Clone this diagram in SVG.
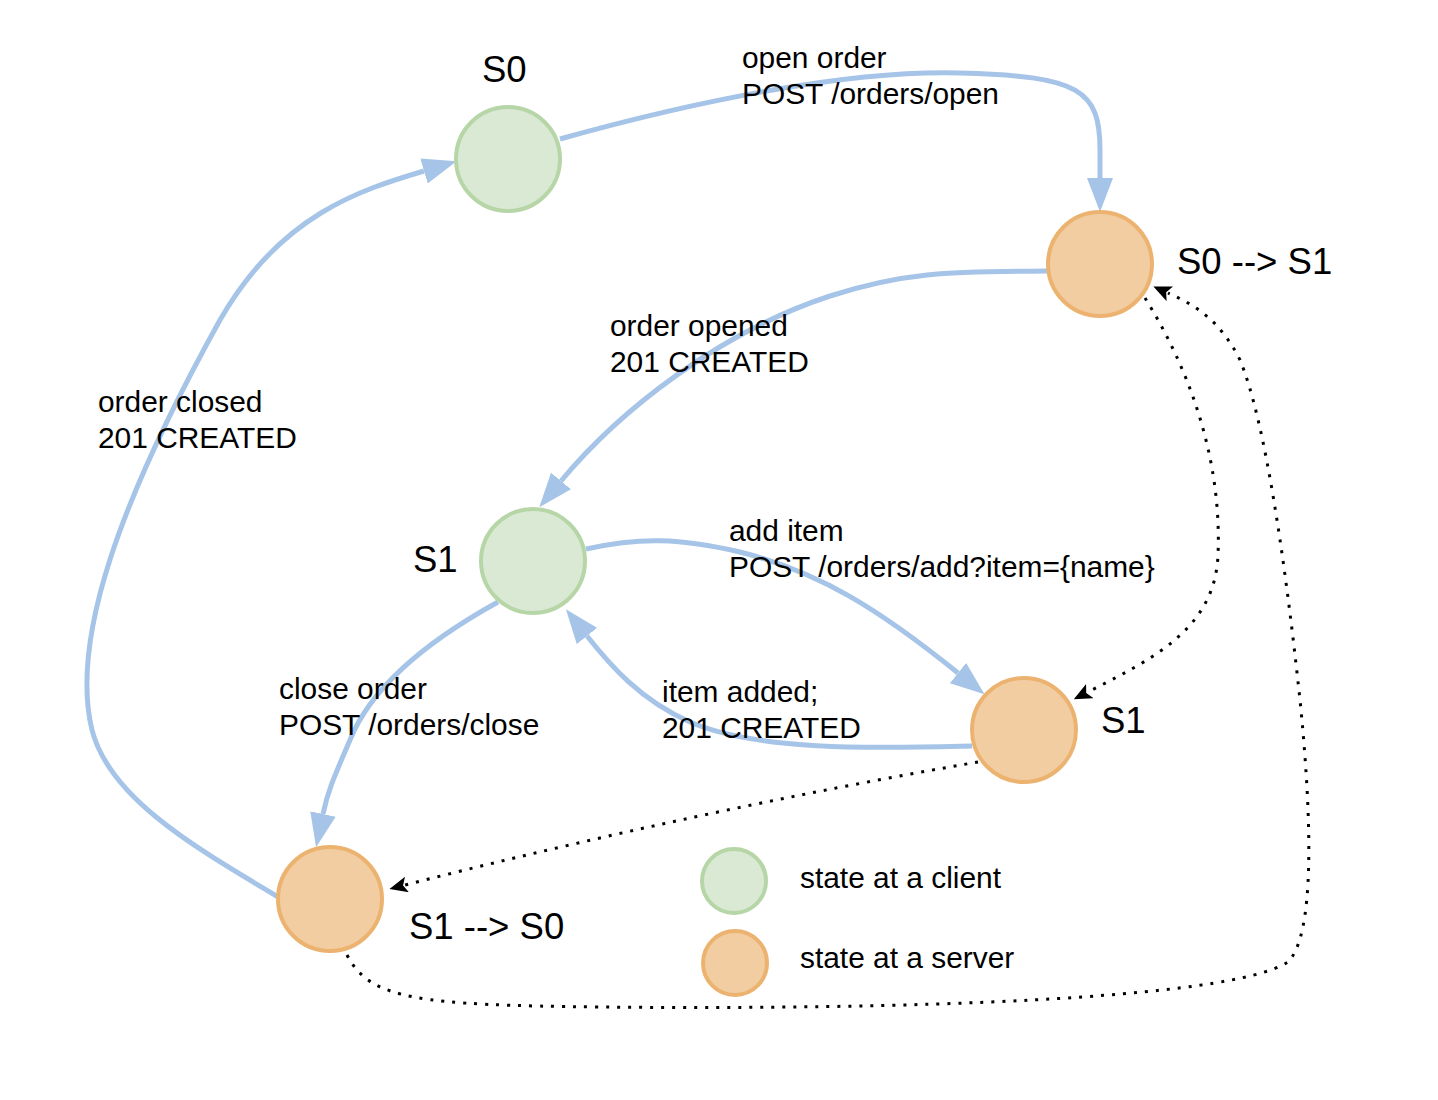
<svg xmlns="http://www.w3.org/2000/svg" width="1438" height="1100" viewBox="0 0 1438 1100">
<style>
.client{fill:#dae9d4;stroke:#b7d6a7;stroke-width:4}
.server{fill:#f2cda1;stroke:#ecb370;stroke-width:4}
.edge{fill:none;stroke:#a6c4e7;stroke-width:5;marker-end:url(#blue)}
.dot{fill:none;stroke:#000;stroke-width:3;stroke-dasharray:3 8;marker-end:url(#black)}
text{font-family:"Liberation Sans",Arial,sans-serif;fill:#000}
.lbl{font-size:29.9px}
.st{font-size:36.5px}
</style>
<defs>
<marker id="blue" markerUnits="userSpaceOnUse" markerWidth="34" markerHeight="26" viewBox="0 0 34 26" refX="0" refY="13" orient="auto"><path d="M0,0 L34,13 L0,26 z" fill="#a6c4e7"/></marker>
<marker id="black" markerUnits="userSpaceOnUse" markerWidth="18" markerHeight="16" viewBox="0 0 18 16" refX="2" refY="8" orient="auto"><path d="M0,0 L18,8 L0,16 L4,8 z" fill="#000"/></marker>
</defs>
<g id="connectors">
<path class="edge" d="M560,139 C700,100 850,70 960,73 C1080,76 1100,90 1100,150 L1100,178"/>
<path class="edge" d="M1047,271 C960,272 910,270 830,296 C720,332 620,410 561,481"/>
<path class="edge" d="M586,549 C640,537 680,538 740,552 C820,572 880,610 958,673"/>
<path class="edge" d="M972,746 C880,748 760,752 690,722 C640,700 610,665 587,636"/>
<path class="edge" d="M498,602 C420,645 370,690 350,740 C335,775 328,790 323,814"/>
<path class="edge" d="M278,897 C200,850 110,800 92,730 C70,640 120,500 220,320 C280,215 360,190 424,171"/>
<path class="dot" d="M1145,298 C1190,370 1222,460 1218,555 C1215,630 1150,660 1088,692"/>
<path class="dot" d="M978,762 Q700,810 405,885"/>
<path class="dot" d="M347,955 C370,1000 420,1005 600,1007 C900,1010 1230,1000 1288,962 C1315,935 1312,820 1300,700 C1285,560 1265,420 1240,360 C1220,320 1195,305 1168,293"/>
</g>
<g id="labels">
<text class="lbl" x="742" y="68">open order</text>
<text class="lbl" x="742" y="104">POST /orders/open</text>
<text class="lbl" x="610" y="336">order opened</text>
<text class="lbl" x="610" y="372">201 CREATED</text>
<text class="lbl" x="98" y="412">order closed</text>
<text class="lbl" x="98" y="448">201 CREATED</text>
<text class="lbl" x="729" y="541">add item</text>
<text class="lbl" x="729" y="577">POST /orders/add?item={name}</text>
<text class="lbl" x="279" y="699">close order</text>
<text class="lbl" x="279" y="735">POST /orders/close</text>
<text class="lbl" x="662" y="702">item added;</text>
<text class="lbl" x="662" y="738">201 CREATED</text>
</g>
<g id="node-s0-client"><circle class="client" cx="508" cy="159" r="52"/><text class="st" x="482" y="82">S0</text></g>
<g id="node-s0s1-server"><circle class="server" cx="1100" cy="264" r="52"/><text class="st" x="1177" y="274">S0 --&gt; S1</text></g>
<g id="node-s1-client"><circle class="client" cx="533" cy="561" r="52"/><text class="st" x="413" y="572">S1</text></g>
<g id="node-s1-server"><circle class="server" cx="1024" cy="730" r="52"/><text class="st" x="1101" y="733">S1</text></g>
<g id="node-s1s0-server"><circle class="server" cx="330" cy="899" r="52"/><text class="st" x="409" y="939">S1 --&gt; S0</text></g>
<g id="legend-client"><circle class="client" cx="734" cy="881" r="32"/><text class="lbl" x="800" y="888">state at a client</text></g>
<g id="legend-server"><circle class="server" cx="735" cy="963" r="32"/><text class="lbl" x="800" y="968">state at a server</text></g>
</svg>
